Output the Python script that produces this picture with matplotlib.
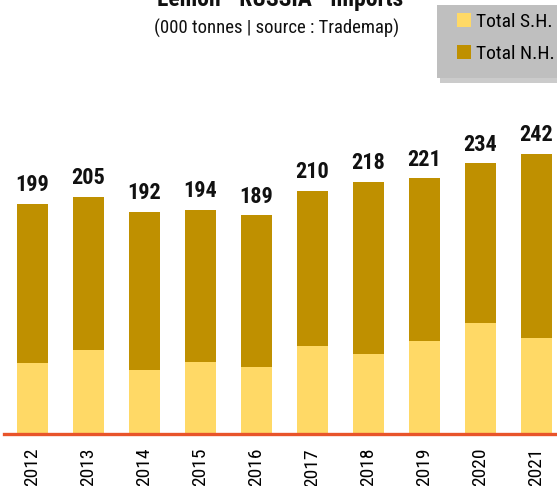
import matplotlib
matplotlib.use('Agg')
import matplotlib.pyplot as plt
from matplotlib.patches import Patch, Rectangle
import numpy as np

years = ['2012', '2013', '2014', '2015', '2016', '2017', '2018', '2019', '2020', '2021']
total = [199, 205, 192, 194, 189, 210, 218, 221, 234, 242]
south = [61, 72.5, 55, 62, 57.5, 76, 69, 80.5, 96, 83]
north = [t - s for t, s in zip(total, south)]

SH_COLOR = '#FFD966'
NH_COLOR = '#BF9000'
LINE_COLOR = '#E8542A'

plt.rcParams['font.family'] = ['Roboto Condensed', 'DejaVu Sans']

W, H = 557, 486
fig = plt.figure(figsize=(W / 100, H / 100), dpi=100)
ax = fig.add_axes([4 / W, (H - 434) / H, (W - 4) / W, 334 / H])

x = np.arange(len(years))
width = 0.554
ax.bar(x, south, width, color=SH_COLOR, label='Total S.H.')
ax.bar(x, north, width, bottom=south, color=NH_COLOR, label='Total N.H.')

for xi, t in zip(x, total):
    ax.annotate(str(t), (xi, t), xytext=(0, 5.5), textcoords='offset points',
                ha='center', va='bottom', fontsize=16, fontweight='bold', color='#111111')

ax.axhline(0, color=LINE_COLOR, lw=2.4, clip_on=False, zorder=5)
ax.set_xlim(-0.504, 9.37)
ax.set_ylim(0, 288.7)
ax.set_xticks(x, years, rotation=90, fontsize=14)
ax.tick_params(axis='x', length=0, pad=10)
ax.set_yticks([])
for s in ax.spines.values():
    s.set_visible(False)

fig.text(280 / W, 1 - 6 / H, 'Lemon  "RUSSIA"  imports', ha='center', va='baseline',
         fontsize=17, fontweight='bold', color='#111111')
fig.text(277 / W, 1 - 28 / H, '(000 tonnes | source : Trademap)', ha='center', va='center',
         fontsize=13.5, color='#111111')

# legend box with a soft drop shadow
fig.patches.append(Rectangle((440 / W, 1 - 83 / H), 130 / W, 73 / H, transform=fig.transFigure,
                             facecolor='#8c8c8c', alpha=0.45, edgecolor='none', zorder=1))
fig.patches.append(Rectangle((437 / W, 1 - 78 / H), 130 / W, 73 / H, transform=fig.transFigure,
                             facecolor='#BFBFBF', edgecolor='none', zorder=2))
handles = [Patch(facecolor=SH_COLOR, label='Total S.H.'),
           Patch(facecolor=NH_COLOR, label='Total N.H.')]
leg = fig.legend(handles=handles, loc='upper left', bbox_to_anchor=(457 / W, 1 - 13 / H),
                 fontsize=14, frameon=False, borderpad=0, borderaxespad=0,
                 handlelength=0.7, handleheight=0.7, handletextpad=0.28,
                 labelspacing=0.7)
leg.set_zorder(3)

fig.savefig('out.png', dpi=100)
